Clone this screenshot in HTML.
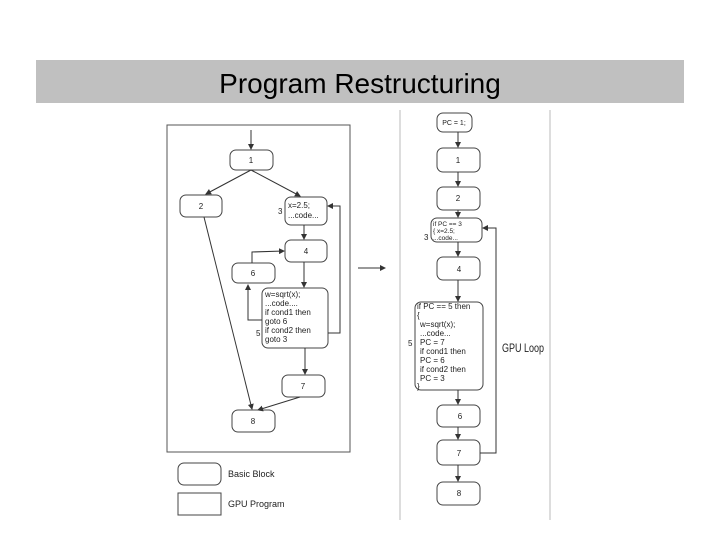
<!DOCTYPE html>
<html><head><style>body{margin:0;background:#fff}svg{display:block}</style></head><body>
<svg width="720" height="540" viewBox="0 0 720 540" xmlns="http://www.w3.org/2000/svg" font-family="Liberation Sans, sans-serif">
<defs><marker id="a" markerWidth="6" markerHeight="6" refX="5" refY="3" orient="auto"><path d="M0,0L6,3L0,6z" fill="#333"/></marker></defs>
<rect x="36" y="60" width="648" height="43" fill="#c0c0c0"/>
<text x="360" y="93" font-size="28" text-anchor="middle" fill="#000">Program Restructuring</text>
<g stroke="#555" fill="none" stroke-width="1">
<rect x="167" y="125" width="183" height="327"/>
<line x1="400" y1="110" x2="400" y2="520" stroke="#bbb"/>
<line x1="550" y1="110" x2="550" y2="520" stroke="#bbb"/>
</g>
<g stroke="#444" fill="#fff" stroke-width="1">
<rect x="230" y="150" width="43" height="20" rx="6"/>
<rect x="180" y="195" width="42" height="22" rx="6"/>
<rect x="285" y="197" width="42" height="28" rx="6"/>
<rect x="285" y="240" width="42" height="22" rx="6"/>
<rect x="232" y="263" width="43" height="20" rx="6"/>
<rect x="262" y="288" width="66" height="60" rx="6"/>
<rect x="282" y="375" width="43" height="22" rx="6"/>
<rect x="232" y="410" width="43" height="22" rx="6"/>
<rect x="437" y="113" width="35" height="19" rx="6"/>
<rect x="437" y="148" width="43" height="24" rx="6"/>
<rect x="437" y="187" width="43" height="23" rx="6"/>
<rect x="431" y="218" width="51" height="24" rx="6"/>
<rect x="437" y="257" width="43" height="23" rx="6"/>
<rect x="415" y="302" width="68" height="88" rx="6"/>
<rect x="437" y="405" width="43" height="22" rx="6"/>
<rect x="437" y="440" width="43" height="25" rx="6"/>
<rect x="437" y="482" width="43" height="23" rx="6"/>
<rect x="178" y="463" width="43" height="22" rx="6"/>
<rect x="178" y="493" width="43" height="22"/>
</g>
<g stroke="#333" fill="none" stroke-width="1" marker-end="url(#a)">
<line x1="251" y1="130" x2="251" y2="149"/>
<line x1="251" y1="170" x2="206" y2="194"/>
<line x1="251" y1="170" x2="300" y2="196"/>
<line x1="204" y1="217" x2="252" y2="409"/>
<line x1="304" y1="225" x2="304" y2="239"/>
<line x1="304" y1="262" x2="304" y2="287"/>
<polyline points="252,263 252,252 284,251"/>
<polyline points="262,320 248,320 248,285"/>
<polyline points="328,333 340,333 340,206 328,206"/>
<line x1="305" y1="348" x2="305" y2="374"/>
<line x1="300" y1="397" x2="258" y2="410"/>
<line x1="358" y1="268" x2="385" y2="268"/>
<line x1="458" y1="132" x2="458" y2="147"/>
<line x1="458" y1="172" x2="458" y2="186"/>
<line x1="458" y1="210" x2="458" y2="217"/>
<line x1="458" y1="242" x2="458" y2="256"/>
<line x1="458" y1="280" x2="458" y2="301"/>
<line x1="458" y1="390" x2="458" y2="404"/>
<line x1="458" y1="427" x2="458" y2="439"/>
<line x1="458" y1="465" x2="458" y2="481"/>
<polyline points="480,453 496,453 496,228 483,228"/>
</g>
<g font-size="8" fill="#222">
<text x="251" y="163" text-anchor="middle">1</text>
<text x="201" y="209" text-anchor="middle">2</text>
<text x="278" y="214">3</text>
<text x="288" y="208">x=2.5;</text>
<text x="288" y="218">...code...</text>
<text x="306" y="254" text-anchor="middle">4</text>
<text x="253" y="276" text-anchor="middle">6</text>
<text x="256" y="336">5</text>
<text x="265" y="297">w=sqrt(x);</text>
<text x="265" y="306">...code....</text>
<text x="265" y="315">if cond1 then</text>
<text x="265" y="324"> goto 6</text>
<text x="265" y="333">if cond2 then</text>
<text x="265" y="342"> goto 3</text>
<text x="303" y="389" text-anchor="middle">7</text>
<text x="253" y="424" text-anchor="middle">8</text>
<text x="454" y="125" text-anchor="middle" font-size="7">PC = 1;</text>
<text x="458" y="163" text-anchor="middle">1</text>
<text x="458" y="201" text-anchor="middle">2</text>
<text x="424" y="240">3</text>
<text x="433" y="226" font-size="6.5">if PC == 3</text>
<text x="433" y="233" font-size="6.5">{ x=2.5;</text>
<text x="433" y="240" font-size="6.5">...code...</text>
<text x="459" y="272" text-anchor="middle">4</text>
<text x="408" y="346">5</text>
<text x="417" y="309">if PC == 5 then</text>
<text x="417" y="318">{</text>
<text x="420" y="327">w=sqrt(x);</text>
<text x="420" y="336">...code...</text>
<text x="420" y="345">PC = 7</text>
<text x="420" y="354">if cond1 then</text>
<text x="420" y="363"> PC = 6</text>
<text x="420" y="372">if cond2 then</text>
<text x="420" y="381"> PC = 3</text>
<text x="417" y="389">}</text>
<text x="460" y="419" text-anchor="middle">6</text>
<text x="459" y="456" text-anchor="middle">7</text>
<text x="459" y="496" text-anchor="middle">8</text>
<text x="228" y="477" font-size="9">Basic Block</text>
<text x="228" y="507" font-size="9">GPU Program</text>
</g>
<text x="502" y="352" font-size="12" fill="#222" textLength="42" lengthAdjust="spacingAndGlyphs">GPU Loop</text>
</svg>
</body></html>
